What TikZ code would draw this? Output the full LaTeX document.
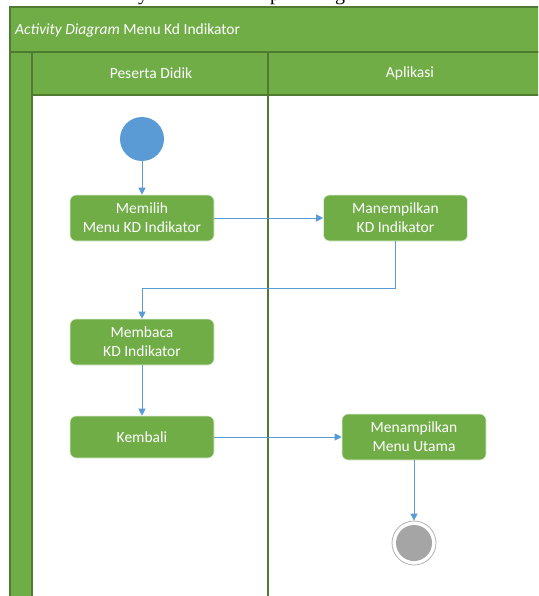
\documentclass[tikz,border=0pt]{standalone}
\usepackage{fontspec}
\setmainfont{Carlito}
\newfontfamily\capfont{Liberation Serif}
\usetikzlibrary{arrows.meta}
\definecolor{lanegreen}{HTML}{70AD47}
\definecolor{laneline}{HTML}{4F7A31}
\definecolor{flowblue}{HTML}{5B9BD5}
\definecolor{endgrey}{HTML}{A5A5A5}
\begin{document}
\begin{tikzpicture}[x=1pt,y=-1pt,
  lane/.style={fill=lanegreen, draw=laneline, line width=1.2pt},
  laneline/.style={draw=laneline, line width=1.2pt},
  act/.style={rectangle, rounded corners=6pt, fill=lanegreen, draw=white!80!lanegreen,
    line width=0.6pt, text=white, minimum width=144pt, minimum height=46pt,
    align=center, font=\fontsize{15.5}{19}\selectfont, inner sep=0pt},
  hdr/.style={text=white, font=\fontsize{15.5}{18}\selectfont, inner sep=0pt},
  flow/.style={draw=flowblue, line width=1pt, -{Triangle[length=7pt,width=7pt]}},
  glyph/.style={anchor=base, inner sep=0pt, font=\capfont\fontsize{20}{20}\selectfont}]
\useasboundingbox (0,0) rectangle (538,596);
\clip (0,0) rectangle (538,596);
\fill[white] (0,0) rectangle (538,596);

% descenders of the caption line above the frame
\node[glyph] (gy) at (143,1) {y};
\node[glyph] (gp) at (275,1) {p};
\node[glyph] (gg) at (340,1) {g};

% swimlane frame
\fill[white] (10,7) rectangle (550,600);
\draw[lane] (10,7) rectangle (550,52);
\draw[lane] (10,52) rectangle (32,600);
\draw[lane] (32,52) rectangle (550,95);
\draw[laneline] (268,52) -- (268,600);

\node[hdr, anchor=west] (title) at (15,30) {\textit{Activity Diagram} Menu Kd Indikator};
\node[hdr] (lane1) at (151,73) {Peserta Didik};
\node[hdr] (lane2) at (410,73) {Aplikasi};

% activities
\node[circle, fill=flowblue, minimum size=44pt, inner sep=0pt] (start) at (142,139) {};
\node[act] (memilih) at (142,218) {Memilih\\Menu KD Indikator};
\node[act] (manem) at (395.5,218) {Manempilkan\\KD Indikator};
\node[act] (membaca) at (142,342) {Membaca\\KD Indikator};
\node[act, minimum height=42pt] (kembali) at (142,437) {Kembali};
\node[act] (menamp) at (414,437) {Menampilkan\\Menu Utama};
\node[circle, draw=black!30, line width=0.8pt, fill=white, minimum size=44pt, inner sep=0pt] (end) at (414,543) {};
\fill[endgrey] (end.center) circle (18pt);

% control flow
\coordinate (turn) at (395.5,288);
\draw[flow] (start) -- (memilih);
\draw[flow] (memilih) -- (manem);
\draw[flow] (manem.south) -- (turn) -| (membaca.north);
\draw[flow] (membaca) -- (kembali);
\draw[flow] (kembali) -- (menamp);
\draw[flow] (menamp) -- (end);
\end{tikzpicture}
\end{document}
